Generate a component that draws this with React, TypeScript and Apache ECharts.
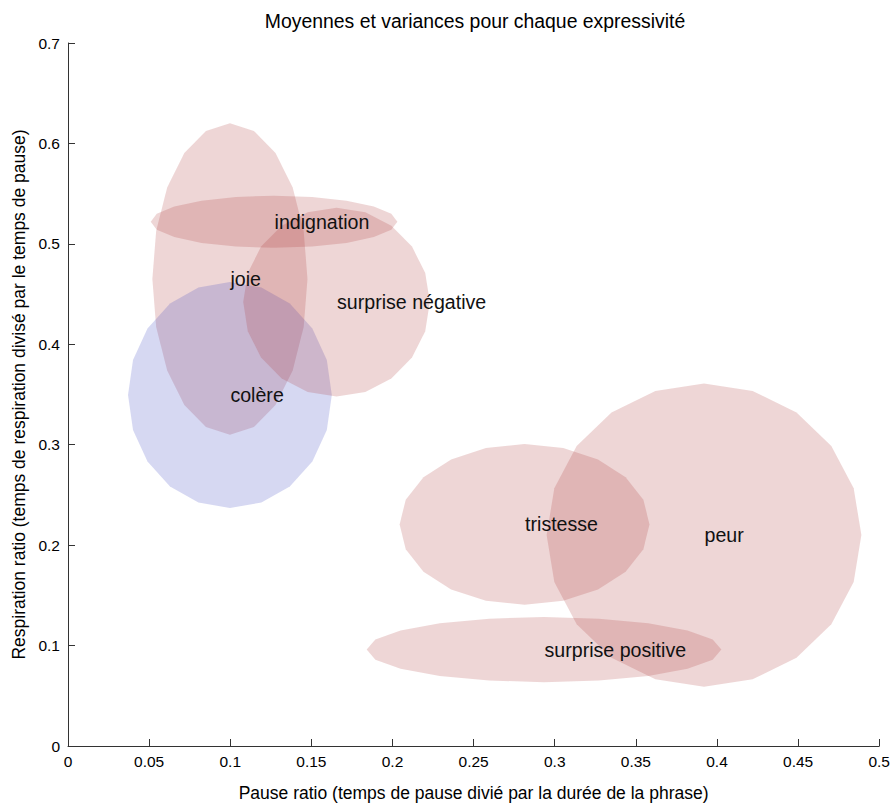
import React, { useEffect, useRef } from "react";
import * as echarts from "echarts";

const names = ["joie", "colère", "indignation", "surprise négative", "tristesse", "peur", "surprise positive"];
const meanX = [0.0998, 0.0998, 0.127, 0.1655, 0.2814, 0.392, 0.2934];
const meanY = [0.465, 0.3495, 0.522, 0.442, 0.2206, 0.21, 0.096];
const spreadX = [0.0478, 0.0628, 0.076, 0.0575, 0.077, 0.097, 0.1093];
const spreadY = [0.155, 0.1125, 0.026, 0.094, 0.08, 0.151, 0.0324];
const groupColor = ["pink", "blue", "pink", "pink", "pink", "pink", "pink"];

const xTicks = { min: 0, max: 0.5, interval: 0.05 };
const yTicks = { min: 0, max: 0.7, interval: 0.1 };

const FILL: Record<string, string> = {
  pink: "rgba(170,50,50,0.2)",
  blue: "rgba(50,60,190,0.2)",
};
const FONT = "Liberation Sans, Arial, Helvetica, sans-serif";
const N_VERT = 20;

export default function App() {
  const ref = useRef<HTMLDivElement>(null);
  useEffect(() => {
    if (!ref.current) return;
    const chart = echarts.init(ref.current, undefined, { renderer: "svg" });
    const ellipseData = names.map((n, i) => ({
      name: n,
      value: [meanX[i], meanY[i], spreadX[i], spreadY[i]],
      color: FILL[groupColor[i]],
    }));
    chart.setOption({
      animation: false,
      backgroundColor: "#ffffff",
      grid: { left: 68, right: 13, top: 43, bottom: 63 },
      graphic: [
        {
          type: "text",
          x: 475,
          y: 21,
          style: {
            text: "Moyennes et variances pour chaque expressivité",
            fill: "#000",
            font: `19.4px ${FONT}`,
            textAlign: "center",
            textVerticalAlign: "middle",
          },
        },
      ],
      xAxis: {
        type: "value",
        min: xTicks.min,
        max: xTicks.max,
        interval: xTicks.interval,
        name: "Pause ratio (temps de pause divié par la durée de la phrase)",
        nameLocation: "middle",
        nameGap: 38,
        nameTextStyle: { fontSize: 17.5, color: "#000", fontFamily: FONT },
        axisLine: { lineStyle: { color: "#333", width: 1 } },
        axisTick: { inside: true, length: 7, lineStyle: { color: "#333" } },
        axisLabel: { fontSize: 15.5, color: "#000", fontFamily: FONT, margin: 7 },
        splitLine: { show: false },
      },
      yAxis: {
        type: "value",
        min: yTicks.min,
        max: yTicks.max,
        interval: yTicks.interval,
        name: "Respiration ratio (temps de respiration divisé par le temps de pause)",
        nameLocation: "middle",
        nameGap: 40,
        nameTextStyle: { fontSize: 17.5, color: "#000", fontFamily: FONT },
        axisLine: { show: true, lineStyle: { color: "#333", width: 1 } },
        axisTick: { show: true, inside: true, length: 7, lineStyle: { color: "#333" } },
        axisLabel: { fontSize: 15.5, color: "#000", fontFamily: FONT, margin: 8 },
        splitLine: { show: false },
      },
      series: [
        {
          type: "custom",
          silent: true,
          encode: { x: 0, y: 1 },
          data: ellipseData.map((d) => ({ name: d.name, value: d.value })),
          renderItem: (params: any, api: any) => {
            const cx = api.value(0);
            const cy = api.value(1);
            const rx = api.value(2);
            const ry = api.value(3);
            const pts: number[][] = [];
            for (let k = 0; k < N_VERT; k++) {
              const a = (2 * Math.PI * k) / N_VERT;
              pts.push(api.coord([cx + rx * Math.cos(a), cy + ry * Math.sin(a)]));
            }
            return {
              type: "polygon",
              shape: { points: pts },
              style: { fill: ellipseData[params.dataIndex].color, stroke: "none" },
            };
          },
        },
        {
          type: "scatter",
          silent: true,
          symbolSize: 1,
          itemStyle: { color: "rgba(0,0,0,0)" },
          data: names.map((n, i) => ({ name: n, value: [meanX[i], meanY[i]] })),
          label: {
            show: true,
            position: "right",
            distance: 0,
            opacity: 1,
            formatter: (p: any) => p.name,
            fontSize: 19.6,
            color: "#111",
            fontFamily: FONT,
          },
          z: 5,
        },
      ],
    });
    return () => chart.dispose();
  }, []);
  return (
    <div
      ref={ref}
      style={{ position: "fixed", left: 0, top: 0, width: 893, height: 809 }}
    />
  );
}
